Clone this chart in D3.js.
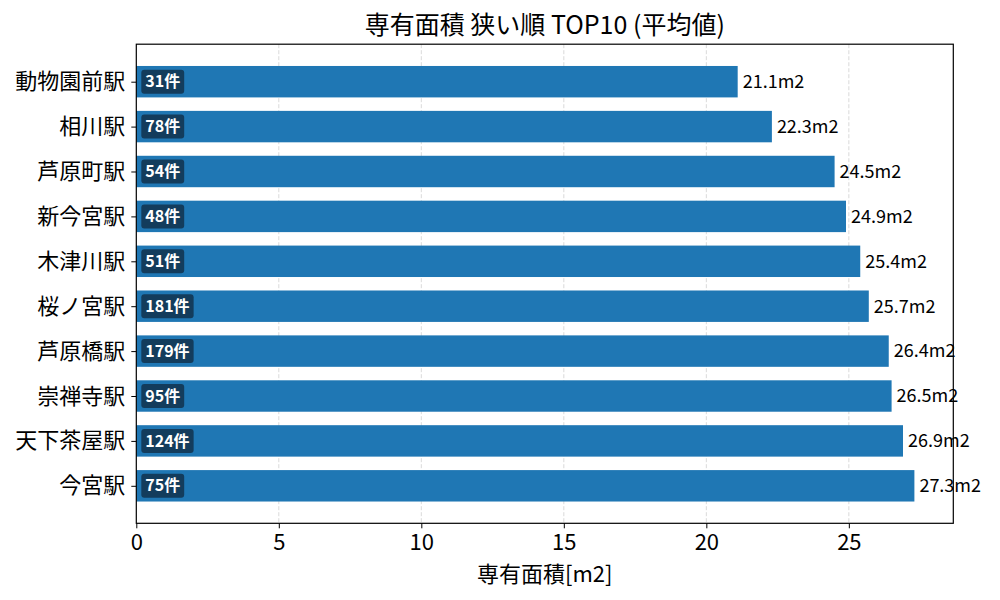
<!DOCTYPE html>
<html>
<head>
<meta charset="utf-8">
<script src="https://cdn.jsdelivr.net/npm/d3@7"></script>
<style>
  html, body { margin: 0; padding: 0; background: #fff; }
  svg { display: block; font-family: "Noto Sans CJK JP", "Noto Sans", sans-serif; }
</style>
</head>
<body>
<svg id="chart" width="1000" height="600"></svg>
<script>
const stations = ["動物園前駅","相川駅","芦原町駅","新今宮駅","木津川駅","桜ノ宮駅","芦原橋駅","崇禅寺駅","天下茶屋駅","今宮駅"];
const areas = [21.1, 22.3, 24.5, 24.9, 25.4, 25.7, 26.4, 26.5, 26.9, 27.3];
const counts = [31, 78, 54, 48, 51, 181, 179, 95, 124, 75];
const xTicks = [0, 5, 10, 15, 20, 25];
const titleText = "専有面積 狭い順 TOP10 (平均値)";
const xLabelText = "専有面積[m2]";

const svg = d3.select("#chart");
const m = { left: 136.3, right: 953.3, top: 44.2, bottom: 523.3 };

const x = d3.scaleLinear().domain([0, d3.max(areas) * 1.05]).range([m.left, m.right]);
// matplotlib-like categorical band: bar height 0.7, margins 5%
const n = stations.length;
const lo = -0.35 - 0.05 * (n - 1 + 0.7), hi = n - 1 + 0.35 + 0.05 * (n - 1 + 0.7);
const yc = d3.scaleLinear().domain([lo, hi]).range([m.top, m.bottom]);
const barH = yc(0.7) - yc(0);

// grid
svg.append("g").selectAll("line").data(xTicks.filter(d => d > 0)).join("line")
  .attr("x1", d => x(d)).attr("x2", d => x(d))
  .attr("y1", m.top).attr("y2", m.bottom)
  .attr("stroke", "#b0b0b0").attr("stroke-opacity", 0.6)
  .attr("stroke-width", 0.8).attr("stroke-dasharray", "4,2");

// bars
svg.append("g").selectAll("rect").data(areas).join("rect")
  .attr("x", x(0)).attr("y", (d, i) => yc(i) - barH / 2)
  .attr("width", d => x(d) - x(0)).attr("height", barH)
  .attr("fill", "#1f77b4");

// count labels
const cg = svg.append("g");
counts.forEach((c, i) => {
  const g = cg.append("g");
  const t = g.append("text")
    .attr("x", x(0) + 9).attr("y", yc(i))
    .attr("dy", "0.35em")
    .attr("font-size", 16).attr("font-weight", "bold").attr("fill", "#fff")
    .text(c + "件");
  const bb = t.node().getBBox();
  g.insert("rect", "text")
    .attr("x", x(0) + 5).attr("y", yc(i) - 12)
    .attr("width", bb.width + 8).attr("height", 24)
    .attr("rx", 3).attr("fill", "#133c5c");
});

// axes frame
svg.append("rect").attr("x", m.left).attr("y", m.top)
  .attr("width", m.right - m.left).attr("height", m.bottom - m.top)
  .attr("fill", "none").attr("stroke", "#000").attr("stroke-width", 1.2);

// x axis
const xAxis = svg.append("g").attr("transform", `translate(0,${m.bottom})`)
  .call(d3.axisBottom(x).tickValues(xTicks).tickSize(5).tickPadding(6).tickFormat(d3.format("d")));
xAxis.select(".domain").remove();
xAxis.selectAll("line").attr("stroke", "#000").attr("stroke-width", 1);
xAxis.selectAll("text").attr("font-size", 22).attr("fill", "#000")
  .attr("font-family", "'Noto Sans CJK JP', sans-serif");

// y axis
const yAxis = svg.append("g").attr("transform", `translate(${m.left},0)`)
  .call(d3.axisLeft(yc).tickValues(d3.range(n)).tickSize(5).tickPadding(6).tickFormat(i => stations[i]));
yAxis.select(".domain").remove();
yAxis.selectAll("line").attr("stroke", "#000").attr("stroke-width", 1);
yAxis.selectAll("text").attr("font-size", 22).attr("fill", "#000")
  .attr("font-family", "'Noto Sans CJK JP', sans-serif");

// value labels
svg.append("g").selectAll("text").data(areas).join("text")
  .attr("x", d => x(d) + 5).attr("y", (d, i) => yc(i))
  .attr("dy", "0.35em").attr("font-size", 18).attr("fill", "#000")
  .text(d => d.toFixed(1) + "m2");

// title
svg.append("text").attr("x", (m.left + m.right) / 2).attr("y", 34)
  .attr("text-anchor", "middle").attr("font-size", 25).attr("fill", "#000")
  .text(titleText);

// x label
svg.append("text").attr("x", (m.left + m.right) / 2).attr("y", 582)
  .attr("text-anchor", "middle").attr("font-size", 22).attr("fill", "#000")
  .text(xLabelText);
</script>
</body>
</html>
